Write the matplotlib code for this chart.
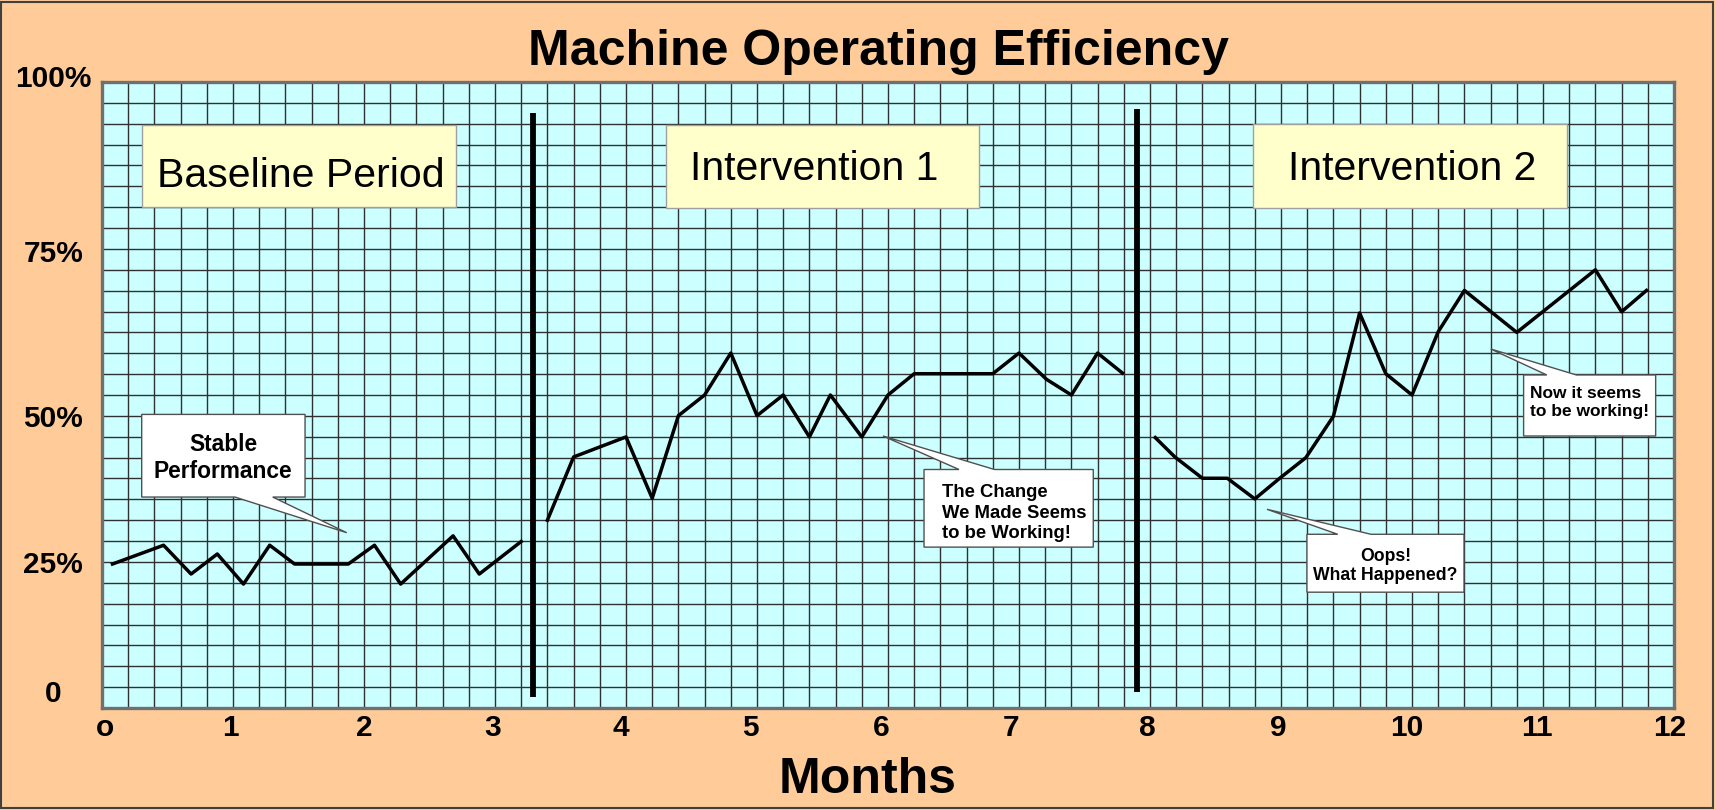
import numpy as np
import matplotlib.pyplot as plt
from matplotlib.patches import Polygon, Rectangle

plt.rcParams['font.family'] = ['Liberation Sans', 'DejaVu Sans']

# Dane (miesiace, procent)
base_x = [0.08, 0.47, 0.68, 0.88, 1.08, 1.28, 1.47, 1.88, 2.08, 2.28, 2.68, 2.88, 3.20]
base_y = [23.0, 26.0, 21.4, 24.6, 19.8, 26.0, 23.0, 23.0, 26.0, 19.8, 27.5, 21.4, 26.6]

int1_x = [3.40, 3.60, 4.00, 4.20, 4.40, 4.60, 4.80, 5.00, 5.20, 5.40,
          5.56, 5.80, 6.00, 6.20, 6.80, 7.00, 7.21, 7.40, 7.60, 7.79]
int1_y = [30.0, 40.1, 43.3, 33.5, 46.7, 50.0, 56.7, 46.7, 50.0, 43.3,
          50.0, 43.3, 50.0, 53.4, 53.4, 56.7, 52.5, 50.0, 56.7, 53.5]

int2_x = [8.04, 8.19, 8.40, 8.59, 8.80, 8.99, 9.19, 9.40, 9.60, 9.80,
          10.00, 10.20, 10.40, 10.80, 11.40, 11.60, 11.79]
int2_y = [43.2, 40.1, 36.7, 36.7, 33.4, 36.7, 40.0, 46.6, 63.1, 53.4,
          50.0, 60.1, 66.7, 60.0, 70.0, 63.3, 66.7]

# Granice okresow
phase_x = [3.29, 7.90]
phase_ylo = [1.8, 2.6]
phase_yhi = [95.0, 95.7]

# Etykiety osi
xtick_pos = [0.02, 0.98, 2.0, 2.98, 3.96, 4.95, 5.95, 6.94, 7.98, 8.98, 9.96, 10.95, 11.97]
xtick_lab = ['o', '1', '2', '3', '4', '5', '6', '7', '8', '9', '10', '11', '12']
ytick_pos = [100.5, 72.5, 46.2, 22.8, 2.2]
ytick_lab = ['100%', '75%', '50%', '25%', '0']

# Nazwy okresow: (x0, x1, y0, y1, tekst, x tekstu, y linii bazowej)
phase_boxes = [
    (0.305, 2.702, 80.0, 93.1, 'Baseline Period', 1.519, 83.3),
    (4.302, 6.695, 79.9, 93.1, 'Intervention 1', 5.435, 84.4),
    (8.786, 11.183, 79.9, 93.3, 'Intervention 2', 10.00, 84.4),
]

fig = plt.figure(figsize=(17.16, 8.10), dpi=100, facecolor='#FFCC99')
ax = fig.add_axes([102 / 1716, 1 - 708 / 810, 1572 / 1716, 626 / 810])
ax.set_facecolor('#CCFFFF')
ax.set_xlim(0, 12)
ax.set_ylim(0, 100)

# Siatka
ax.set_xticks(np.arange(0, 12.001, 0.2), minor=True)
ax.set_yticks(np.linspace(0, 100, 31), minor=True)
ax.set_xticks([])
ax.set_yticks([])
ax.tick_params(which='both', length=0, labelbottom=False, labelleft=False)
ax.grid(which='minor', color='#303030', linewidth=1.0)
ax.set_axisbelow(True)
for s in ax.spines.values():
    s.set_color('#707070')
    s.set_linewidth(2.4)

# Linie danych
for xs, ys in [(base_x, base_y), (int1_x, int1_y), (int2_x, int2_y)]:
    ax.plot(xs, ys, color='black', linewidth=2.5, zorder=3)

# Grube linie oddzielajace okresy
for px, lo, hi in zip(phase_x, phase_ylo, phase_yhi):
    ax.plot([px, px], [lo, hi], color='black', linewidth=4.2,
            solid_capstyle='butt', zorder=3)

# Zolte ramki z nazwami okresow
for x0, x1, y0, y1, txt, tx, ty in phase_boxes:
    ax.add_patch(Rectangle((x0, y0), x1 - x0, y1 - y0, facecolor='#FFFFCC',
                           edgecolor='#A0A0A0', linewidth=1.0, zorder=4))
    ax.text(tx, ty, txt, ha='center', va='baseline', fontsize=29.5, zorder=5)


# Dymki z komentarzami
def dymek(x0, x1, y0, y1, wl, wr, tip, top):
    if top:
        pts = [(x0, y1), (wl, y1), tip, (wr, y1), (x1, y1), (x1, y0), (x0, y0)]
    else:
        pts = [(x0, y1), (x1, y1), (x1, y0), (wr, y0), tip, (wl, y0), (x0, y0)]
    ax.add_patch(Polygon(pts, closed=True, facecolor='white',
                         edgecolor='#505050', linewidth=1.0, zorder=4))


dymek(0.303, 1.550, 33.7, 46.9, 1.015, 1.303, (1.868, 28.0), False)
for line, yb in zip(['Stable', 'Performance'], [41.1, 36.8]):
    ax.text(0.926, yb, line, ha='center', va='baseline', fontsize=16.4,
            fontweight='bold', zorder=5)

dymek(6.275, 7.567, 25.7, 38.1, 6.542, 6.813, (5.962, 43.45), True)
for line, yb in zip(['The Change', 'We Made Seems', 'to be Working!'], [33.75, 30.3, 27.1]):
    ax.text(6.412, yb, line, ha='left', va='baseline', fontsize=13.3,
            fontweight='bold', zorder=5)

dymek(9.198, 10.397, 18.5, 27.75, 9.433, 9.687, (8.893, 31.74), True)
for line, yb in zip(['Oops!', 'What Happened?'], [23.5, 20.4]):
    ax.text(9.798, yb, line, ha='center', va='baseline', fontsize=12.7,
            fontweight='bold', zorder=5)

dymek(10.852, 11.860, 43.45, 53.2, 11.029, 11.255, (10.601, 57.35), True)
for line, yb in zip(['Now it seems', 'to be working!'], [49.6, 46.65]):
    ax.text(10.901, yb, line, ha='left', va='baseline', fontsize=12.5,
            fontweight='bold', zorder=5)

# Etykiety osi
for pos, lab in zip(xtick_pos, xtick_lab):
    ax.text(pos, -0.032, lab, transform=ax.get_xaxis_transform(), ha='center',
            va='center', fontsize=21.5, fontweight='bold', clip_on=False)
for pos, lab in zip(ytick_pos, ytick_lab):
    ax.text(-0.031, pos, lab, transform=ax.get_yaxis_transform(), ha='center',
            va='center', fontsize=21.5, fontweight='bold', clip_on=False)

fig.text(0.5122, 1 - 65 / 810, 'Machine Operating Efficiency', ha='center',
         va='baseline', fontsize=36, fontweight='bold')
fig.text(0.5055, 1 - 793 / 810, 'Months', ha='center', va='baseline',
         fontsize=36, fontweight='bold')

# Ramka wokol calego rysunku
fig.patches.append(Rectangle((1 / 1716, 2 / 810), 1712 / 1716, 806 / 810,
                             transform=fig.transFigure, fill=False,
                             edgecolor='#404040', linewidth=1.5))

fig.savefig('out.png', dpi=100, facecolor=fig.get_facecolor())
